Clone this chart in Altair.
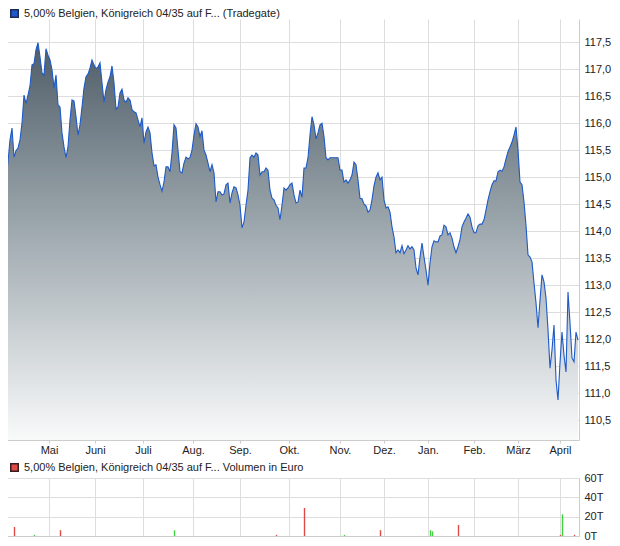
import altair as alt
import pandas as pd

serie_kurs = "5,00% Belgien, Königreich 04/35 auf F... (Tradegate)"
serie_vol = "5,00% Belgien, Königreich 04/35 auf F... Volumen in Euro"

# Kurs (Tradegate), one value per trading-day step
kurs = [
    115.23, 115.00, 115.28, 115.69, 115.91, 115.37, 115.49, 115.54, 115.69, 116.00,
    116.52, 116.36, 116.52, 116.69, 117.08, 117.10, 117.36, 117.49, 117.23, 116.93,
    116.89, 117.38, 117.26, 117.17, 116.99, 116.65, 116.89, 116.34, 116.30, 115.82,
    115.56, 115.36, 115.56, 116.06, 116.43, 116.41, 116.12, 115.78, 115.97, 116.30,
    116.65, 116.86, 116.91, 117.02, 117.17, 117.08, 117.01, 117.04, 117.12,
    116.75, 116.39, 116.62, 116.76, 116.86, 117.06, 116.75, 116.26, 116.30, 116.56,
    116.63, 116.43, 116.39, 116.47, 116.43, 116.25, 116.21, 116.19, 116.06, 115.93,
    116.10, 115.63, 115.84, 115.93, 115.82, 115.45, 115.21, 115.23, 115.00, 114.86,
    114.74, 114.91, 115.19, 115.19, 115.10, 115.45, 115.97, 115.91, 115.50, 115.10,
    115.08, 115.26, 115.37, 115.34, 115.36, 115.50, 115.78, 115.99,
    115.93, 115.75, 115.86, 115.50, 115.41, 115.26, 115.10, 115.23, 115.08, 114.54,
    114.73, 114.73, 114.67, 114.69, 114.86, 114.89, 114.52, 114.71, 114.82, 114.80,
    114.67, 114.48, 114.06, 114.17, 114.48, 114.76, 115.36, 115.41, 115.37, 115.45,
    115.41, 115.04, 115.10, 115.10, 115.17, 115.13, 114.76, 114.61, 114.58, 114.48,
    114.43, 114.21, 114.48, 114.80, 114.76, 114.80, 114.86,
    114.89, 114.67, 114.52, 114.54, 114.76, 114.63, 115.17, 115.17, 115.36, 115.78,
    116.12, 115.97, 115.71, 115.82, 115.97, 116.00, 115.75, 115.36, 115.32, 115.36,
    115.36, 115.36, 115.36, 115.36, 115.13, 115.13, 114.91, 114.95, 114.89, 114.95,
    115.04, 115.28, 115.23, 114.95, 114.61, 114.60, 114.50, 114.47, 114.35, 114.39,
    114.58, 114.84, 115.00, 115.08, 114.95, 115.00, 114.58, 114.43,
    114.45, 114.35, 114.08, 113.89, 113.60, 113.65, 113.60, 113.73, 113.58, 113.65,
    113.73, 113.67, 113.71, 113.65, 113.32, 113.19, 113.52, 113.78, 113.52, 113.28,
    113.00, 113.41, 113.71, 113.82, 113.80, 113.80, 113.91, 113.93, 114.11, 114.08,
    113.93, 113.97, 113.87, 113.71, 113.60, 113.71, 113.84, 114.08, 114.17, 114.24,
    114.32, 114.26, 114.08, 113.97, 113.97, 114.10, 114.13, 114.13, 114.21, 114.39,
    114.58, 114.73,
    114.86, 114.93, 114.93, 115.10, 115.13, 115.11, 115.19, 115.34, 115.47, 115.56,
    115.65, 115.78, 115.93, 115.50, 114.91, 114.86, 114.54, 114.11, 113.56, 113.52,
    113.43, 113.04, 112.67, 112.21, 112.72, 113.19, 113.06, 112.76, 112.17, 111.46,
    111.80, 112.26, 111.24, 110.87, 111.56, 112.13, 111.70, 111.39, 112.87, 112.30,
    111.65, 111.58, 112.13, 111.98,
]
tag = list(range(len(kurs)))

# month boundaries (trading-day step index) and labels
monat_tag = [22.5, 45.5, 69.5, 94.5, 118, 142.5, 168, 190, 212, 235, 257, 278]
monat_name = ["Mai", "Juni", "Juli", "Aug.", "Sep.", "Okt.", "Nov.", "Dez.", "Jan.", "Feb.", "März", "April"]

kurs_min, kurs_max = 110.13, 117.93
kurs_ticks = [110.5, 111.0, 111.5, 112.0, 112.5, 113.0, 113.5, 114.0, 114.5,
              115.0, 115.5, 116.0, 116.5, 117.0, 117.5]
vol_ticks = [0, 20000, 40000, 60000]

# volume bars
vol_tag = [0, 1, 5, 15, 28, 85, 136, 150, 170, 188, 213, 214, 227, 278, 279, 285]
vol_wert = [57600, 1200, 9300, 1200, 6000, 6000, 1200, 29000, 1200, 6000, 6000, 4800, 11400, 1200, 22400, 1200]
vol_richtung = ["auf", "ab", "ab", "auf", "ab", "auf", "ab", "ab", "auf", "ab", "auf", "auf", "ab", "ab", "auf", "ab"]

df_kurs = pd.DataFrame({"tag": tag, "kurs": kurs, "serie": serie_kurs})
df_vol = pd.DataFrame({"tag": vol_tag, "volumen": vol_wert, "richtung": vol_richtung, "serie": serie_vol})

FONT = "Liberation Sans"
GRID = "#dddddd"
LINE = "#cccccc"
TXT = "#222222"
BLAU = "#1d5ac8"
GRUEN = "#3fd43f"
ROT = "#dc4a4a"

monat_expr = ("[" + ",".join("'%s'" % m for m in monat_name) + "][indexof(["
              + ",".join(str(v) for v in monat_tag) + "], datum.value)]")

x_dom = [0, 287.5]

x_kurs = alt.X(
    "tag:Q",
    scale=alt.Scale(domain=x_dom, nice=False, zero=False),
    axis=alt.Axis(values=monat_tag, labelExpr=monat_expr, title=None, grid=True,
                  gridColor=GRID, domainColor=LINE, tickColor=LINE, tickSize=3,
                  labelPadding=1, labelFontSize=11, labelColor=TXT, labelFont=FONT,
                  labelFlush=False, labelOverlap=False),
)
y_kurs = alt.Y(
    "kurs:Q",
    scale=alt.Scale(domain=[kurs_min, kurs_max], nice=False, zero=False),
    axis=alt.Axis(orient="right", values=kurs_ticks,
                  labelExpr="replace(format(datum.value, '.1f'), '.', ',')",
                  title=None, grid=True, gridColor=GRID, domainColor=LINE, ticks=False,
                  labelPadding=5, labelFontSize=11, labelColor=TXT, labelFont=FONT,
                  labelFlush=False, labelOverlap=False),
)

verlauf = alt.Gradient(
    gradient="linear",
    stops=[alt.GradientStop(color="#4f5d68", offset=0),
           alt.GradientStop(color="#a3adb3", offset=0.5),
           alt.GradientStop(color="#f9fafa", offset=1)],
    x1=0, x2=0, y1=0, y2=1,
)

flaeche = alt.Chart(df_kurs).mark_area(fill=verlauf, fillOpacity=1, clip=True).encode(
    x=x_kurs, y=y_kurs, y2=alt.datum(kurs_min)
)
linie = alt.Chart(df_kurs).mark_line(color=BLAU, strokeWidth=1.1, clip=True).encode(x=x_kurs, y=y_kurs)
legende_kurs = alt.Chart(df_kurs).transform_filter("false").mark_square(
    filled=True, opacity=1, stroke="#1b2c55", strokeWidth=1
).encode(
    x=x_kurs, y=y_kurs,
    fill=alt.Fill("serie:N", scale=alt.Scale(domain=[serie_kurs], range=[BLAU]),
                  legend=alt.Legend(title=None, orient="none", legendX=5, legendY=-11,
                                    symbolType="square", symbolSize=56, labelFontSize=11,
                                    labelFont=FONT, labelColor=TXT, labelLimit=600,
                                    labelOffset=4, padding=0)),
)
kurs_chart = alt.layer(flaeche, linie, legende_kurs).properties(width=575, height=421)

x_vol = alt.X(
    "tag:Q",
    scale=alt.Scale(domain=x_dom, nice=False, zero=False),
    axis=alt.Axis(values=monat_tag, labels=False, ticks=False, title=None, grid=True,
                  gridColor=GRID, domainColor=LINE),
)
y_vol = alt.Y(
    "volumen:Q",
    scale=alt.Scale(domain=[0, 60000], nice=False),
    axis=alt.Axis(orient="right", values=vol_ticks,
                  labelExpr="format(datum.value / 1000, 'd') + 'T'",
                  title=None, grid=True, gridColor=GRID, domainColor=LINE, ticks=False,
                  labelPadding=5, labelFontSize=11, labelColor=TXT, labelFont=FONT,
                  labelFlush=False, labelOverlap=False),
)
balken = alt.Chart(df_vol).mark_rule(strokeWidth=1.4, xOffset=0.5, opacity=1).encode(
    x=x_vol, y=y_vol, y2=alt.datum(0),
    color=alt.Color("richtung:N", scale=alt.Scale(domain=["auf", "ab"], range=[GRUEN, ROT]), legend=None),
)
legende_vol = alt.Chart(df_vol).transform_filter("false").mark_square(
    filled=True, opacity=1, stroke="#3a1c1c", strokeWidth=1
).encode(
    x=x_vol, y=y_vol,
    fill=alt.Fill("serie:N", scale=alt.Scale(domain=[serie_vol], range=[ROT]),
                  legend=alt.Legend(title=None, orient="none", legendX=5, legendY=-16,
                                    symbolType="square", symbolSize=56, labelFontSize=11,
                                    labelFont=FONT, labelColor=TXT, labelLimit=600,
                                    labelOffset=4, padding=0)),
)
vol_chart = alt.layer(balken, legende_vol).properties(width=575, height=58)

chart = alt.vconcat(kurs_chart, vol_chart, spacing=7).resolve_scale(
    fill="independent", color="independent"
).resolve_legend(fill="independent", color="independent").properties(
    padding={"left": -5, "top": 0, "right": 0, "bottom": 0}
).configure(font=FONT).configure_view(stroke=None)

chart.save("out.html", embed_options={"renderer": "svg", "actions": False})
